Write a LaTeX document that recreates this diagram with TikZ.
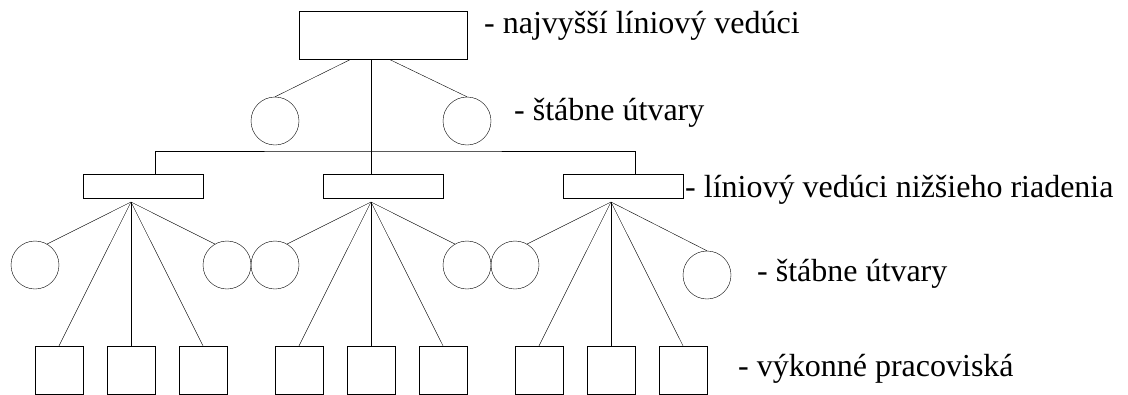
\documentclass[tikz,border=0pt]{standalone}
\usepackage{fontspec}
\setmainfont{Liberation Serif}
\usepackage{tikz}
\usetikzlibrary{positioning}
\tikzset{line width=2pt}
\tikzset{headbox/.style={draw,rectangle,inner sep=0pt,minimum width=168pt,minimum height=48pt}}
\tikzset{leadbox/.style={draw,rectangle,inner sep=0pt,minimum width=120pt,minimum height=24pt}}
\tikzset{staffunit/.style={draw,circle,inner sep=0pt,minimum size=48pt}}
\tikzset{workbox/.style={draw,rectangle,inner sep=0pt,minimum size=48pt}}
\tikzset{note/.style={inner sep=0pt,anchor=base west,font=\fontsize{32pt}{36pt}\selectfont}}

\begin{document}
\begin{tikzpicture}[x=1pt,y=-1pt]
        \useasboundingbox (0,0) rectangle (1128,394);
        % top level
        \node[headbox] (h) at (383,35) {};
        \node[staffunit] (a1) at (275,121) {};
        \node[staffunit] (a2) at (467,121) {};
        % lower line managers
        \node[leadbox] (l1) at (143,186) {};
        \node[leadbox] (l2) at (383,186) {};
        \node[leadbox] (l3) at (623,186) {};
        \coordinate (bus) at (371,151);
        \coordinate (f1) at (131,202);
        \coordinate (f2) at (371,202);
        \coordinate (f3) at (611,202);
        % staff units of the lower level
        \node[staffunit] (b1) at (35,265) {};
        \node[staffunit] (b2) at (227,265) {};
        \node[staffunit] (b3) at (275,265) {};
        \node[staffunit] (b4) at (467,265) {};
        \node[staffunit] (b5) at (515,265) {};
        \node[staffunit] (b6) at (707,275) {};
        % workplaces
        \node[workbox] (w1) at (59,370) {};
        \node[workbox] (w2) at (131,370) {};
        \node[workbox] (w3) at (203,370) {};
        \node[workbox] (w4) at (299,370) {};
        \node[workbox] (w5) at (371,370) {};
        \node[workbox] (w6) at (443,370) {};
        \node[workbox] (w7) at (539,370) {};
        \node[workbox] (w8) at (611,370) {};
        \node[workbox] (w9) at (683,370) {};

        \draw ([xshift=-12pt]h.south) -- ([xshift=-12pt]l2.north);
        \draw ([xshift=12pt]l1.north) |- (bus) -| ([xshift=12pt]l3.north);
        \path
            ([xshift=-32pt]h.south) edge (a1.north)
            ([xshift=6pt]h.south)   edge (a2.north)
            (f1) edge (b1.60) edge (b2.120)
                 edge (w1.north) edge (w2.north) edge (w3.north)
            (f2) edge (b3.60) edge (b4.120)
                 edge (w4.north) edge (w5.north) edge (w6.north)
            (f3) edge (b5.60) edge (b6.north)
                 edge (w7.north) edge (w8.north) edge (w9.north)
        ;

        \node[note] (t1) at (484,33)  {- najvyšší líniový vedúci};
        \node[note] (t2) at (514,120) {- štábne útvary};
        \node[note] (t3) at (685,197) {- líniový vedúci nižšieho riadenia};
        \node[note] (t4) at (757,281) {- štábne útvary};
        \node[note] (t5) at (738,376) {- výkonné pracoviská};
    \end{tikzpicture}
\end{document}
